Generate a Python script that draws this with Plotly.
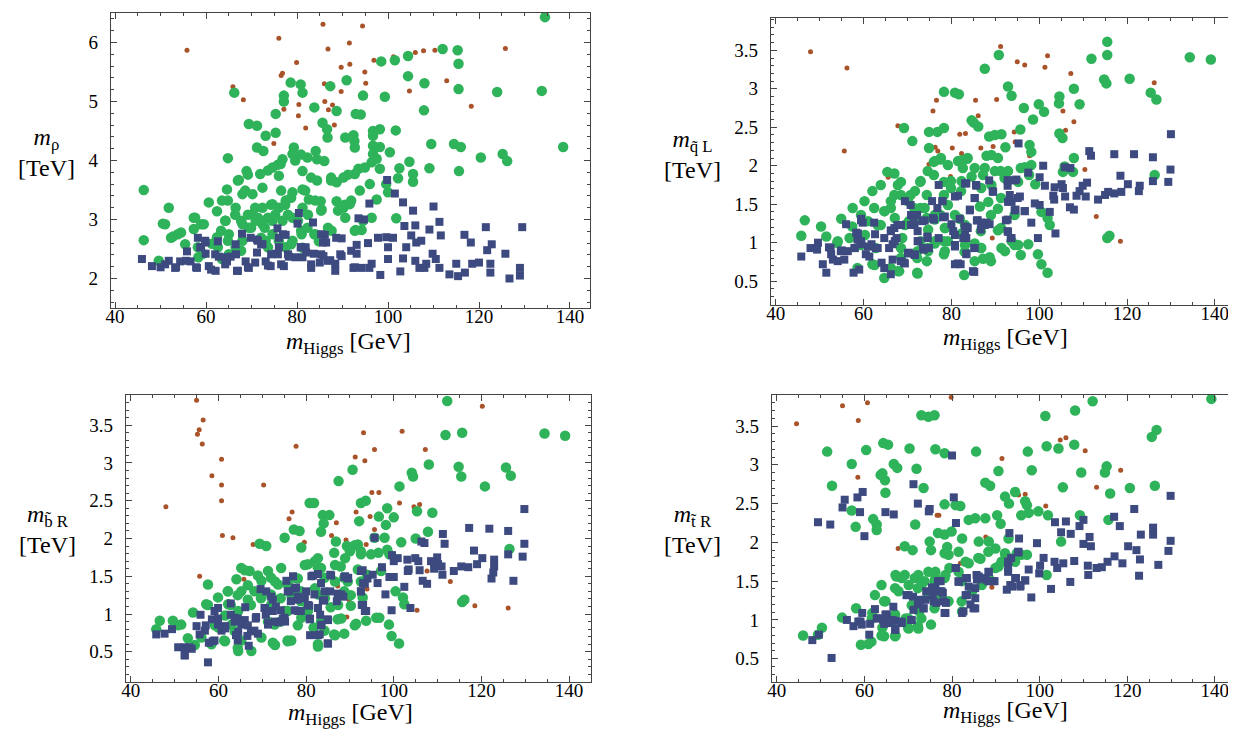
import plotly.graph_objects as go

# ---------------- data (m_Higgs [GeV], mass [TeV]) ----------------
# Panel 1: m_rho
rho_brown = [(55.8,5.87),(76.0,6.07),(85.7,6.31),(86.8,5.89),(79.9,5.66),(76.5,5.44),(76.8,5.48),(65.9,5.25),
             (68.2,5.03),(77.1,4.87),(80.4,4.95),(80.3,4.76),(86.0,5.30),(86.1,5.00),(81.9,4.55),(74.9,4.29),
             (86.9,4.86),(94.4,6.28),(91.5,5.99),(125.8,5.90),(106.0,5.83),(107.8,5.86),(110.3,5.87),(101.2,5.76),
             (96.9,5.70),(91.6,5.63),(89.7,5.58),(94.9,5.50),(112.9,5.35),(95.1,5.31),(89.7,5.17),(104.7,5.18),
             (87.8,4.94),(118.3,4.92),(88.2,4.60)]
rho_green = [(46.3,3.50),(46.3,2.65),(51.8,3.20),(50.5,2.93),(52.7,2.71),(54.5,2.78),(57.3,3.03),(57.3,2.84),
             (59.5,2.92),(60.6,3.29),(62.4,3.14),(64.8,4.04),(66.2,5.15),(63.5,3.32),(64.6,3.51),(67.2,3.67),
             (68.9,3.82),(69.4,4.62),(71.2,4.59),(73.1,4.42),(71.2,4.22),(72.6,4.16),(71.9,3.77),(74.6,3.88),
             (75.3,4.47),(75.3,4.79),(77.1,5.00),(77.1,5.10),(78.6,5.32),(80.8,5.29),(81.2,5.15),(83.8,4.90),
             (85.6,4.64),(79.3,4.22),(79.0,4.11),(76.8,4.02),(76.4,3.94),(82.3,4.05),(84.1,4.16),(86.0,3.99),
             (81.2,3.82),(76.0,3.74),(72.4,3.54),(70.2,3.43),(68.0,3.43),(66.5,3.20),(64.3,2.98),(65.0,2.75),
             (68.0,2.92),(70.2,3.09),(72.4,3.20),(74.6,3.26),(76.0,3.20),(77.5,3.32),(79.0,3.46),(81.2,3.51),
             (82.6,3.34),(85.2,3.31),(85.4,3.17),(81.2,3.20),(79.0,3.03),(76.8,2.98),(74.6,2.98),(72.4,2.92),
             (70.9,2.98),(69.4,2.86),(68.0,2.64),(66.5,2.53),(65.0,2.41),(63.5,2.33),(62.4,2.70),(61.3,2.59),
             (59.3,2.42),(58.3,2.36),(81.0,2.75),(82.3,2.86),(83.8,2.75),(84.8,2.63),(81.2,2.52),(79.0,2.64),
             (77.5,2.53),(76.0,2.64),(74.6,2.75),(73.1,2.64),(49.6,2.30),(87.5,3.71),(86.7,4.39),(87.3,5.26),
             (64.8,3.32),(64.2,2.98),(63.3,2.81),(66.4,3.08),(67.7,2.98),(69.2,3.08),(70.8,3.20),(71.4,3.03),
             (69.9,2.86),(72.9,2.86),(72.1,2.69),(73.6,3.03),(75.2,3.08),(74.3,3.25),(77.4,3.25),(78.7,3.37),
             (78.0,3.08),(76.5,3.49),(68.6,3.49),(67.0,3.66),(69.2,3.76),(73.6,3.83),(75.8,3.93),(79.6,4.00),
             (80.9,4.10),(83.1,3.71),(81.8,3.49),(84.0,3.32),(82.4,3.08),(85.3,3.15),(80.2,2.98),(80.9,2.81),
             (62.6,2.53),(64.8,2.64),(67.7,2.47),(73.6,2.53),(78.7,2.58),(84.0,2.75),(57.6,3.03),(58.9,2.92),
             (53.8,2.75),(52.3,2.69),(55.4,2.58),(58.2,2.53),(51.0,2.92),(91.2,3.76),(87.5,3.66),(90.5,3.25),
             (89.0,3.15),(91.9,3.32),(86.8,2.86),(92.7,2.81),
             (134.5,6.43),(112.0,5.89),(115.3,5.87),(115.5,5.64),(98.5,5.68),(101.5,5.70),(104.4,5.77),(104.4,5.43),
             (108.0,5.31),(90.9,5.36),(94.5,5.10),(99.3,5.08),(115.5,5.21),(124.0,5.16),(133.8,5.18),(107.9,4.85),
             (88.7,4.84),(92.9,4.79),(94.0,4.78),(86.6,4.53),(96.7,4.50),(98.2,4.53),(101.7,4.51),(96.7,4.42),
             (90.6,4.39),(92.4,4.43),(92.6,4.33),(92.7,4.22),(109.5,4.28),(114.5,4.28),(116.0,4.23),(138.5,4.23),
             (120.4,4.05),(125.2,4.11),(126.2,3.99),(96.7,4.25),(98.2,4.23),(100.4,4.14),(96.7,4.11),(97.5,4.03),
             (96.4,3.97),(98.2,3.86),(104.7,3.98),(102.5,3.87),(109.1,3.87),(115.6,3.82),(105.5,3.77),(102.2,3.70),
             (105.5,3.64),(99.6,3.60),(100.0,3.46),(93.5,3.86),(94.9,3.88),(92.7,3.77),(90.2,3.71),(88.7,3.63),
             (84.4,4.02),(84.4,3.66),(96.0,3.60),(93.8,3.49),(97.5,3.34),(91.6,3.26),(88.7,3.31),(90.2,3.20),
             (90.6,3.03),(96.4,3.03),(94.5,2.98),(101.8,3.02),(92.9,2.82),(94.2,2.82),(87.6,2.81)]
rho_blue = [(45.9,2.33),(48.1,2.21),(50.0,2.19),(51.8,2.30),(53.2,2.18),(54.3,2.29),(55.8,2.46),(56.6,2.29),
            (58.0,2.18),(58.2,2.69),(58.7,2.53),(59.9,2.42),(59.9,2.61),(60.6,2.21),(62.1,2.13),(62.6,2.63),
            (62.8,2.37),(64.6,2.29),(65.4,2.37),(66.5,2.58),(66.8,2.13),(67.9,2.76),(68.7,2.29),(69.4,2.18),
            (69.8,2.69),(71.2,2.44),(71.2,2.66),(72.4,2.58),(73.1,2.29),(74.2,2.21),(75.7,2.85),(76.0,2.69),
            (75.3,2.42),(76.0,2.53),(77.1,2.21),(77.5,2.74),(78.2,2.37),(80.4,3.11),(80.1,2.93),(80.8,2.53),
            (81.2,2.36),(81.9,2.53),(83.1,2.18),(83.5,2.95),(83.7,2.42),(85.0,2.27),(86.1,2.74),(86.4,2.61),
            (59.8,2.64),(58.9,2.53),(62.0,2.41),(64.2,2.36),(66.6,2.41),(71.4,2.64),(72.1,2.58),(74.3,2.41),
            (75.8,2.41),(76.9,2.75),(78.0,2.41),(80.9,2.53),(82.0,2.44),(85.3,2.75),(85.7,2.61),(88.6,2.69),
            (89.5,2.41),(85.3,2.41),(86.8,2.30),(83.1,2.24),(79.6,2.36),(76.5,2.24),(73.6,2.22),(70.8,2.27),
            (67.0,2.13),(64.2,2.24),(61.1,2.15),(57.8,2.19),(53.4,2.19),(51.0,2.24),(55.6,2.30),(69.2,2.19),
            (91.9,2.47),(92.7,2.19),
            (99.8,3.67),(101.5,3.44),(103.3,3.29),(95.9,3.27),(105.5,3.15),(110.0,3.22),(93.5,3.02),(94.7,3.00),
            (111.3,2.96),(103.6,2.89),(106.0,2.90),(109.1,2.83),(111.6,2.73),(116.8,2.74),(121.5,2.87),(129.5,2.87),
            (89.8,2.68),(93.1,2.57),(95.6,2.60),(97.8,2.69),(99.6,2.70),(101.1,2.69),(100.0,2.53),(104.0,2.53),
            (105.1,2.73),(106.2,2.61),(107.3,2.64),(118.2,2.61),(122.8,2.58),(121.8,2.48),(109.8,2.42),(110.5,2.33),
            (125.8,2.42),(93.1,2.42),(85.8,2.38),(89.8,2.38),(87.3,2.31),(88.4,2.25),(88.4,2.13),(92.4,2.18),
            (94.2,2.18),(95.9,2.18),(96.4,2.25),(98.3,2.06),(100.0,2.33),(102.7,2.12),(103.3,2.34),(106.0,2.30),
            (106.9,2.18),(108.0,2.18),(108.4,2.25),(111.3,2.18),(113.5,2.07),(115.0,2.25),(115.4,2.04),(116.9,2.10),
            (118.5,2.25),(120.0,2.27),(122.5,2.25),(122.5,2.10),(126.7,2.00),(129.0,2.18),(129.0,2.05)]

# Panel 2: m_qL
qL_brown = [(47.9,3.48),(56.2,3.27),(55.6,2.19),(67.8,2.52),(65.6,1.85),(76.6,2.85),(75.8,2.71),(76.3,2.24),
            (76.9,2.19),(74.9,2.02),(91.2,3.55),(95.0,3.35),(96.7,3.31),(101.9,3.43),(101.3,3.28),(107.2,3.20),
            (126.2,3.08),(85.5,2.85),(90.3,2.86),(86.1,2.65),(81.9,2.41),(83.2,2.42),(94.3,2.44),(105.4,2.71),
            (107.9,2.57),(106.0,2.46),(80.2,2.23),(82.3,2.16),(86.7,2.23),(89.5,2.25),(94.5,2.31),(97.8,2.13),
            (79.8,1.86),(110.4,1.95),(86.1,1.29),(89.3,1.06),(113.0,1.34),(118.5,1.02)]
qL_green = [(46.6,1.29),(45.8,1.09),(50.3,1.21),(51.5,1.08),(54.0,1.00),(54.9,1.31),(57.5,1.45),(57.4,1.21),
            (56.8,1.06),(58.9,1.04),(58.6,0.67),(62.0,1.67),(63.9,1.75),(65.4,1.92),(67.0,1.90),(69.2,2.49),
            (71.1,2.32),(68.5,1.79),(67.0,1.62),(66.2,1.45),(64.7,1.41),(63.9,1.23),(62.8,0.93),(62.0,0.72),
            (64.7,0.54),(66.2,0.67),(68.1,0.63),(68.5,0.93),(68.8,1.06),(70.3,1.28),(71.5,1.45),(70.7,1.62),
            (72.9,1.79),(74.4,1.62),(72.9,1.45),(74.4,1.32),(74.7,1.17),(72.9,1.02),(72.2,0.80),(72.2,0.61),
            (74.4,0.76),(74.7,0.89),(74.9,2.44),(76.8,2.44),(74.9,2.23),(76.0,2.05),(77.5,2.08),(78.3,2.96),
            (78.3,2.49),(76.0,1.88),(78.3,1.79),(78.3,1.62),(77.5,1.36),(78.6,1.19),(78.3,1.02),(78.3,0.85),
            (60.2,1.54),(59.4,1.36),(61.0,1.28),(62.4,1.45),
            (67.8,1.75),(68.5,1.62),(66.2,1.54),(64.8,1.41),(70.1,1.54),(71.7,1.67),(73.0,1.80),(74.6,1.93),
            (76.2,2.06),(77.6,2.10),(79.2,2.01),(81.5,2.06),(83.7,2.10),(85.3,1.97),(87.6,1.97),(89.9,1.93),
            (92.2,1.84),(95.8,1.97),(79.9,1.80),(82.2,1.67),(79.2,1.49),(80.8,1.36),(76.2,1.36),(73.9,1.45),
            (71.7,1.28),(69.4,1.23),(67.1,1.32),(63.2,1.23),(60.3,1.10),(54.1,1.02),(59.4,0.97),(62.5,0.71),
            (67.8,0.63),(68.5,0.80),(72.3,0.89),(72.3,0.60),(74.6,0.93),(76.2,1.02),(78.5,0.89),(79.2,1.02),
            (83.1,0.97),(86.7,0.93),(89.0,0.76),(85.3,0.76),(78.5,1.19),(83.1,1.23),(86.7,1.15),(89.0,1.36),
            (91.3,1.19),(92.2,0.89),(94.4,0.97),(95.8,0.84),(94.4,1.36),(91.3,1.58),(90.6,2.10),
            (115.5,3.61),(115.5,3.44),(111.9,3.39),(134.3,3.41),(139.1,3.38),(90.8,3.44),(87.6,3.26),(114.8,3.12),
            (115.3,3.07),(120.6,3.13),(125.4,2.95),(126.7,2.86),(109.2,2.80),(107.9,3.00),(104.6,2.90),(104.5,2.81),
            (99.9,2.80),(101.1,2.70),(96.5,2.75),(92.9,3.03),(93.7,2.91),(80.8,2.95),(81.7,2.93),(85.1,2.56),
            (86.1,2.51),(84.6,2.59),(88.6,2.38),(89.9,2.40),(91.4,2.41),(95.7,2.47),(98.6,2.60),(104.6,2.42),
            (105.3,2.36),(92.3,2.24),(89.1,2.14),(88.0,2.13),(97.8,2.27),(98.2,2.18),(107.9,2.10),(98.2,2.01),
            (87.2,1.88),(91.2,1.93),(92.9,1.93),(96.7,1.98),(97.7,1.88),(99.1,1.76),(105.4,1.92),(126.3,1.88),
            (82.3,2.07),(83.6,2.09),(82.6,1.97),(84.6,1.86),(82.3,1.80),(79.9,1.71),(86.8,1.71),(89.1,1.75),
            (92.1,1.84),(95.2,1.79),(88.4,1.53),(90.6,1.44),(86.5,1.47),(81.9,1.31),(82.3,1.12),(76.2,1.30),
            (76.2,0.99),(83.0,0.88),(85.3,0.99),(87.2,0.79),(88.7,0.81),(86.8,0.93),(90.6,1.16),(91.4,0.93),
            (93.7,1.02),(95.2,0.97),(97.5,0.98),(99.7,0.85),(100.5,0.72),(101.9,0.61),(100.5,1.40),(101.9,1.32),
            (102.4,1.23),(82.9,0.58),(115.5,1.06),(116.0,1.09),(105.8,1.99),(107.7,1.92)]
qL_blue = [(45.8,0.82),(47.9,0.93),(49.6,1.00),(49.4,0.91),(50.7,0.72),(51.5,0.61),(52.1,0.94),(52.6,0.85),
           (53.0,0.78),(54.1,0.76),(55.0,0.90),(56.0,1.24),(55.6,0.78),(56.4,0.89),(57.9,0.93),(57.7,0.61),
           (58.3,1.13),(59.0,0.65),(58.6,1.04),(59.4,1.31),(59.8,1.26),(59.5,0.98),(60.5,0.85),(61.3,0.82),
           (61.8,0.98),(62.4,1.26),(62.6,1.11),(62.8,0.93),(64.1,0.74),(64.7,0.67),(64.7,1.06),(66.2,1.16),
           (65.8,0.93),(66.6,0.98),(66.2,0.59),(67.0,1.19),(67.7,1.23),(67.5,1.06),(66.6,0.78),(68.5,0.76),
           (69.2,0.74),(68.5,1.23),(69.4,1.54),(70.7,1.49),(71.3,1.34),(72.2,1.36),(71.6,1.24),(70.3,0.87),
           (71.5,0.85),(72.5,1.02),(73.4,1.28),(73.7,0.91),(74.5,1.08),(74.9,0.93),(75.6,1.54),(76.0,1.30),
           (77.1,1.75),(76.8,1.45),(77.1,1.06),(77.9,1.54),(78.1,1.33),
           (52.5,0.93),(54.8,0.89),(58.0,0.93),(59.4,1.02),(61.0,0.95),(63.2,0.93),(58.7,1.12),(59.4,1.29),
           (66.2,1.15),(67.1,1.02),(69.4,0.73),(70.1,0.86),(71.7,0.84),(72.3,1.02),(74.6,1.06),(73.5,0.93),
           (72.3,1.15),(70.8,1.23),(70.8,1.36),(73.9,1.29),(75.8,1.32),(78.0,1.54),(78.5,1.34),(80.8,1.10),
           (80.8,0.97),(81.5,0.73),(83.1,1.10),(83.7,1.19),(83.4,0.86),(85.3,0.93),(84.9,0.63),(80.8,1.60),
           (83.1,1.77),(85.6,1.75),(85.3,1.58),(84.2,1.42),(89.4,1.67),(86.0,1.29),(87.6,1.23),(86.7,1.17),
           (92.4,1.29),(92.8,1.81),(94.4,1.81),(93.3,1.62),(95.1,1.58),(94.4,1.42),(96.7,1.41),(92.8,1.15),
           (93.5,1.06),
           (130.0,2.41),(111.4,2.19),(111.8,2.13),(117.1,2.15),(121.6,2.15),(125.9,2.11),(129.9,1.95),(129.4,1.79),
           (125.9,1.80),(122.9,1.74),(122.7,1.67),(120.2,1.76),(118.5,1.87),(118.7,1.66),(117.1,1.64),(115.7,1.66),
           (115.0,1.62),(113.4,1.56),(110.9,1.78),(109.9,1.74),(109.2,1.67),(108.5,1.61),(107.1,1.97),(105.8,1.98),
           (105.1,1.76),(105.4,1.71),(103.5,1.72),(103.2,1.61),(103.4,1.56),(105.9,1.60),(107.0,1.46),(107.9,1.43),
           (110.6,1.60),(100.9,2.00),(100.1,1.85),(101.3,1.74),(99.0,1.51),(100.1,1.49),(102.4,1.40),(103.7,1.12),
           (99.7,1.06),(98.2,1.26),(97.5,1.91),(95.3,2.29),(94.8,1.82),(92.9,1.81),(92.8,1.74),(92.9,1.53),
           (93.7,1.53),(95.6,1.60),(94.6,1.43),(96.7,1.41),(92.8,1.30),(92.9,1.14),(93.7,1.06),(88.6,1.81),
           (89.5,1.66),(85.7,1.74),(85.3,1.58),(83.4,1.77),(81.5,1.61),(84.2,1.43),(81.9,1.31),(80.0,1.24),
           (80.4,1.15),(83.0,1.21),(83.6,1.20),(85.8,1.29),(86.8,1.26),(88.0,1.26),(88.7,1.24),(83.4,1.06),
           (82.7,1.06),(80.8,0.95),(85.2,0.93),(83.4,0.85),(80.8,0.72),(82.1,0.72),(85.2,0.62)]

# Panel 3: m_bR
bR_brown = [(55.0,3.83),(56.5,3.57),(55.6,3.44),(55.2,3.38),(56.3,3.25),(48.0,2.42),(60.7,3.05),(58.5,2.83),
            (60.7,2.71),(60.7,2.50),(60.9,2.04),(55.7,1.50),(63.3,2.01),(67.9,1.92),(70.3,2.71),(77.7,3.22),
            (76.8,2.35),(76.1,2.26),(79.6,1.95),(65.8,1.46),
            (120.2,3.75),(93.1,3.40),(101.9,3.42),(95.6,3.18),(107.2,3.18),(91.2,3.08),(93.4,3.03),(95.0,2.61),
            (96.6,2.61),(101.3,2.47),(104.6,2.42),(105.9,2.45),(91.4,2.35),(94.6,2.29),(86.9,2.21),(95.6,2.12),
            (85.8,2.04),(89.1,1.98),(93.7,1.92),(107.6,1.57),(112.9,1.43),(97.7,1.58),(87.2,1.37),(93.9,1.33),
            (89.8,1.19),(118.5,1.11),(126.1,1.08),(105.3,1.05),(89.3,0.96)]
bR_green = [(46.6,0.91),(45.8,0.80),(49.6,0.91),(51.5,0.86),(54.2,1.02),(57.2,1.13),(56.1,0.69),(58.4,0.60),
            (60.0,0.82),(61.3,0.65),(62.2,1.30),(64.1,1.46),(65.2,1.61),(67.1,1.57),(69.4,1.93),(70.9,1.90),
            (75.1,2.01),(77.2,2.12),(78.5,2.10),(80.8,2.47),(81.8,2.47),(83.8,2.31),(83.4,2.09),(78.9,1.88),
            (74.3,1.61),(72.0,1.48),(69.8,1.44),(68.2,1.30),(66.7,1.19),(64.5,1.04),(63.0,0.86),(65.2,0.65),
            (67.5,0.51),(64.5,0.51),(69.8,0.69),(72.4,0.62),(75.8,0.65),(76.6,0.65),(72.8,0.86),(75.1,1.04),
            (76.6,1.26),(77.4,1.48),(80.4,1.66),(82.7,1.74),(84.2,1.48),(82.7,1.26),(80.4,1.08),(78.9,0.95),
            (82.7,0.60),(84.2,0.78),(57.6,1.39),(59.9,1.22),(62.2,1.13),(65.2,1.30),(69.8,1.22),(72.0,1.26),
            (73.6,1.39),(75.8,1.39),
            (50.7,0.85),(53.0,0.68),(54.6,0.59),(57.6,1.12),(59.2,0.85),(61.5,0.64),(63.7,0.77),(64.4,0.55),
            (61.5,0.98),(62.8,1.12),(64.4,1.25),(66.7,1.38),(69.0,1.51),(71.3,1.57),(72.9,1.43),(67.4,1.12),
            (69.7,1.21),(72.0,1.12),(74.2,1.21),(75.8,1.04),(74.2,0.90),(71.3,0.90),(72.9,0.59),(75.8,0.64),
            (76.5,1.34),(78.1,1.47),(79.7,1.65),(82.0,1.70),(83.4,1.61),(86.6,1.65),(88.9,1.74),(91.1,1.91),
            (92.5,1.83),(78.8,1.17),(80.4,1.04),(78.1,0.85),(78.8,1.30),(82.0,1.34),(84.3,1.21),(83.4,0.90),
            (86.6,0.72),(82.7,0.57),(88.0,0.94),(91.1,0.85),(87.3,1.12),(90.2,1.25),(89.5,1.43),(86.6,1.43),
            (92.5,1.43),(62.1,1.30),(66.0,1.58),
            (112.2,3.82),(111.8,3.37),(115.6,3.40),(134.4,3.39),(139.1,3.36),(108.0,2.98),(104.1,2.87),(104.4,2.82),
            (114.8,2.95),(115.4,2.82),(125.6,2.94),(126.7,2.83),(120.8,2.69),(101.3,2.69),(90.6,2.91),(87.4,2.76),
            (92.5,2.47),(93.6,2.50),(98.5,2.40),(96.6,2.29),(100.0,2.28),(105.3,2.36),(108.8,2.34),(92.1,2.23),
            (98.2,2.18),(85.3,2.31),(84.0,2.20),(95.6,2.01),(97.9,2.01),(101.7,1.95),(107.8,2.09),(105.0,2.00),
            (86.8,1.96),(89.3,1.90),(91.8,1.92),(90.0,1.83),(92.5,1.79),(94.8,1.79),(96.5,1.81),(98.5,1.85),
            (99.0,1.79),(86.4,1.81),(82.6,1.63),(87.9,1.63),(88.7,1.48),(91.8,1.59),(93.9,1.52),(97.1,1.57),
            (109.3,1.68),(126.4,1.86),(100.4,1.30),(102.1,1.22),(102.4,1.13),(115.6,1.16),(116.1,1.19),(90.2,1.11),
            (87.2,0.93),(91.4,0.87),(93.7,0.91),(96.0,0.95),(96.7,0.95),(98.9,0.86),(99.5,0.71),(101.2,0.61),
            (88.7,0.74),(86.4,0.73),(81.7,0.82),(85.6,1.09),(88.7,1.30),(92.9,1.22)]
bR_blue = [(45.8,0.73),(47.7,0.74),(49.4,0.80),(50.8,0.56),(52.3,0.56),(53.4,0.56),(52.3,0.45),(53.9,0.54),
           (55.0,0.84),(55.9,0.99),(55.7,0.73),(56.9,0.78),(57.6,0.36),(57.8,0.62),(59.1,0.65),(58.5,0.93),
           (59.1,1.04),(59.9,1.08),(59.9,0.86),(60.7,0.78),(61.6,0.84),(62.8,1.14),(63.7,0.95),(64.5,0.76),
           (65.2,0.86),(66.1,1.09),(66.6,0.71),(66.9,0.58),(68.2,0.78),(68.6,0.96),(69.6,1.33),(70.9,1.30),
           (70.5,1.08),(72.4,1.19),(72.4,1.04),(71.3,0.86),(73.6,0.89),(75.1,0.95),(75.5,1.44),(76.2,1.30),
           (77.0,1.50),(77.7,1.35),(78.1,1.19),(78.1,1.04),(80.0,1.30),(80.8,0.93),(81.2,1.50),(82.7,1.53),
           (81.9,1.26),(82.7,1.08),(83.1,0.73),(83.5,0.86),(84.2,1.30),
           (52.3,0.46),(58.7,0.64),(57.1,0.85),(59.9,0.94),(61.5,0.81),(62.8,0.99),(63.7,0.90),(64.4,0.94),
           (64.0,0.72),(64.4,0.65),(66.0,0.92),(66.7,0.85),(67.4,0.77),(69.0,0.74),(68.5,0.94),(70.6,1.08),
           (70.8,0.99),(72.0,1.23),(71.3,0.88),(72.9,0.90),(73.1,1.10),(74.2,1.05),(74.7,0.94),(75.2,0.90),
           (75.8,1.30),(76.5,1.17),(77.4,1.34),(78.1,1.23),(77.4,1.05),(78.8,1.04),(79.7,1.21),(80.4,1.12),
           (80.9,0.94),(81.6,1.51),(83.4,1.41),(82.7,1.08),(83.2,0.99),(83.4,0.85),(80.9,0.72),(82.7,0.72),
           (85.0,0.61),(85.0,0.92),(83.8,1.18),(85.7,1.51),(87.3,1.25),(88.0,1.25),(88.9,1.50),(89.5,1.47),
           (92.5,1.57),(93.0,1.41),(92.5,1.30),(93.0,1.12),(93.4,1.04),
           (129.8,2.39),(117.2,2.14),(121.8,2.13),(126.1,2.10),(111.2,2.06),(106.3,1.96),(107.0,1.94),(111.6,1.93),
           (118.3,1.84),(129.8,1.93),(129.4,1.76),(126.1,1.79),(120.2,1.74),(122.9,1.72),(122.9,1.63),(122.3,1.47),
           (122.7,1.55),(119.0,1.66),(117.0,1.62),(115.4,1.63),(113.7,1.57),(109.9,1.75),(108.5,1.70),(110.1,1.66),
           (109.2,1.60),(111.1,1.52),(110.9,1.63),(127.3,1.44),(104.9,1.74),(105.6,1.70),(103.1,1.72),(100.9,1.74),
           (99.6,1.78),(100.0,1.70),(103.2,1.57),(103.4,1.59),(105.9,1.58),(106.6,1.44),(107.6,1.40),(102.4,1.36),
           (99.0,1.49),(100.0,1.49),(97.3,1.62),(95.6,2.01),(95.2,1.52),(96.3,1.41),(92.9,1.58),(94.0,1.47),
           (93.4,1.40),(92.5,1.30),(92.7,1.12),(93.7,1.04),(98.1,1.26),(99.5,1.05),(103.8,1.08),(88.7,1.49),
           (89.6,1.48),(85.5,1.52),(85.5,1.30),(87.2,1.27),(88.0,1.26),(88.5,1.23),(84.1,1.18),(87.0,1.17),
           (80.7,1.11),(84.9,0.93),(84.9,0.61)]

# Panel 4: m_tR
tR_brown = [(44.5,3.53),(55.0,3.76),(60.7,3.80),(58.6,3.57),(58.5,2.84),(67.7,1.92),(76.6,2.35),
            (79.8,3.87),(104.7,3.32),(106.0,3.35),(110.4,3.18),(91.4,3.08),(118.5,2.93),(113.0,2.71),(96.7,2.62),
            (95.2,2.61),(101.4,2.47),(77.0,2.35),(87.7,2.07),(87.9,1.86),(81.9,1.73),(89.1,1.42)]
tR_green = [(46.0,0.80),(49.4,0.81),(50.3,0.90),(51.5,3.17),(52.6,2.73),(57.1,3.01),(57.1,2.41),(58.0,2.20),
            (60.4,3.19),(59.2,0.68),(60.9,0.69),(61.7,1.02),(58.1,1.15),(54.9,1.03),(62.0,2.30),(62.8,2.23),
            (62.8,2.16),(63.7,2.87),(64.1,2.89),(64.3,3.28),(65.4,3.26),(64.7,2.80),(64.8,2.64),(66.7,3.01),
            (67.5,2.96),(70.3,3.21),(71.9,2.95),(73.5,2.70),(71.6,2.23),(69.2,1.95),(71.0,1.90),(73.0,3.64),
            (74.6,3.62),(76.0,3.64),(76.2,3.20),(78.3,3.15),(78.3,2.49),(76.8,2.12),(78.3,2.10),(74.9,2.01),
            (75.2,1.90),(78.3,1.86),(79.4,1.67),(75.2,0.94),(76.0,1.15),(74.5,1.30),(72.2,1.41),(71.5,1.54),
            (69.2,1.58),(67.3,1.56),(67.0,1.41),(64.5,1.24),(62.4,1.32),(61.8,1.09),(64.1,0.90),(64.5,0.79),
            (67.0,0.79),(67.0,1.07),(70.0,1.02),(70.0,0.90),(72.2,0.92),(72.5,1.11),(73.7,1.50),(76.0,1.50),
            (78.3,1.54),(77.5,1.32),
            (61.6,0.72),(63.9,1.45),(64.8,1.24),(63.9,0.80),(66.2,0.98),(67.1,0.80),(67.1,1.58),(68.5,1.54),
            (70.1,1.45),(67.8,1.37),(70.8,1.19),(69.4,1.02),(70.1,0.89),(72.3,0.89),(72.3,1.58),(74.6,1.62),
            (73.0,1.45),(73.0,1.02),(76.2,1.54),(78.5,1.58),(79.2,1.84),(81.5,1.88),(83.1,1.75),(82.2,1.24),
            (86.0,1.80),(88.3,1.88),(89.9,1.67),(91.3,1.75),(92.2,1.84),(94.4,1.75),(95.8,1.84),(82.2,1.50),
            (86.7,1.50),
            (139.2,3.85),(112.1,3.82),(108.1,3.70),(101.3,3.63),(126.7,3.45),(125.6,3.36),(101.6,3.24),(104.3,3.21),
            (107.9,3.26),(85.5,3.17),(97.3,3.17),(98.2,2.93),(90.6,2.92),(109.5,2.90),(115.3,2.98),(114.9,2.90),
            (105.3,2.71),(116.1,2.63),(120.6,2.70),(126.3,2.73),(87.6,2.77),(88.7,2.73),(94.4,2.65),(92.1,2.59),
            (93.0,2.50),(96.7,2.53),(97.1,2.48),(80.8,2.48),(81.9,2.47),(99.7,2.40),(101.9,2.35),(109.2,2.35),
            (115.7,2.29),(83.8,2.29),(85.3,2.31),(87.6,2.31),(90.3,2.35),(91.1,2.24),(95.8,2.35),(97.5,2.38),
            (79.9,2.14),(82.3,2.05),(86.1,2.01),(88.4,2.01),(92.9,2.05),(89.9,1.92),(92.1,1.86),(94.8,1.86),
            (97.1,1.84),(104.9,2.01),(86.5,1.79),(83.8,1.73),(81.5,1.62),(78.9,1.94),(90.6,1.69),(101.6,1.58),
            (76.2,1.62),(79.2,1.24),(82.3,1.11),(84.6,1.37),(86.8,1.45),(88.4,1.54)]
tR_blue = [(52.5,0.51),(48.1,0.74),(49.6,0.81),(49.4,2.26),(52.2,2.23),(55.0,2.45),(55.5,2.55),(58.4,2.58),
           (59.6,2.65),(59.0,2.39),(60.0,2.08),(64.8,2.39),(66.7,2.36),(71.2,2.75),(72.2,2.50),(74.9,2.43),
           (74.7,2.40),(56.0,1.00),(57.5,0.92),(58.6,0.98),(59.5,1.09),(59.4,0.94),(61.1,0.81),(61.3,0.95),
           (62.4,1.14),(62.8,1.02),(64.3,1.00),(64.5,0.95),(65.1,1.07),(66.6,1.17),(67.0,0.99),(67.0,0.87),
           (68.5,0.96),(69.6,1.32),(70.7,1.00),(71.1,1.30),(72.2,1.20),(72.9,1.26),(73.5,1.15),(74.1,1.37),
           (75.4,1.42),(75.6,1.32),(76.4,1.22),(76.8,1.50),(77.1,1.37),(77.9,1.35),(78.3,1.09),(78.6,1.22),
           (59.1,0.98),(63.2,1.02),(64.8,1.07),(65.5,0.96),(67.1,0.89),(66.2,1.00),(68.5,0.98),(70.1,1.32),
           (70.8,1.00),(71.2,1.13),(72.3,1.24),(73.5,1.15),(73.9,1.26),(76.2,1.41),(75.8,1.24),(77.4,1.50),
           (77.6,1.37),(78.0,1.24),(78.5,1.09),(80.8,1.67),(81.5,1.50),(83.4,1.54),(83.1,1.32),(82.6,1.11),
           (84.9,1.15),(85.3,1.28),(85.6,1.58),(86.7,1.54),(88.3,1.62),(88.3,1.50),(89.4,1.50),(92.8,1.62),
           (92.8,1.75),(93.3,1.45),(94.4,1.54),(95.6,1.45),(96.7,1.51),(95.1,1.88),
           (80.0,3.12),(80.4,2.58),(80.9,2.25),(129.9,2.60),(121.6,2.43),(117.0,2.33),(118.3,2.21),(110.0,2.29),
           (109.1,2.21),(106.0,2.27),(104.9,2.13),(103.5,2.26),(107.1,2.11),(110.0,1.98),(111.7,1.95),(111.4,2.07),
           (120.2,1.95),(122.1,1.90),(123.1,2.10),(125.9,2.19),(125.9,2.10),(129.9,2.02),(129.4,1.89),(122.9,1.78),
           (127.1,1.71),(122.7,1.57),(118.9,1.73),(117.1,1.82),(115.5,1.75),(114.2,1.68),(113.0,1.67),(111.0,1.70),
           (111.1,1.58),(107.9,1.76),(107.0,1.49),(105.4,1.73),(104.0,1.67),(103.4,1.75),(102.6,1.40),(100.9,1.80),
           (100.1,1.70),(99.9,1.60),(99.4,1.99),(97.5,1.65),(98.1,1.29),(96.7,1.51),(95.6,1.43),(94.6,1.54),
           (93.7,1.43),(92.5,1.39),(95.2,1.87),(95.3,2.05),(93.1,2.12),(93.5,1.80),(92.9,1.75),(92.8,1.67),
           (89.7,1.50),(88.4,1.62),(88.7,1.50),(87.7,1.52),(86.1,1.56),(85.7,1.52),(85.3,1.41),(83.8,1.43),
           (83.2,1.54),(81.5,1.49),(80.9,1.67),(83.4,1.32),(84.2,1.20),(85.3,1.15),(82.3,1.09)]

y_titles = ["<i>m</i><sub>ρ</sub><br>[TeV]", "<i>m</i><sub>q̃ L</sub><br>[TeV]",
            "<i>m</i><sub>b̃ R</sub><br>[TeV]", "<i>m</i><sub>t̃ R</sub><br>[TeV]"]
x_title = "<i>m</i><sub>Higgs</sub> [GeV]"

panels = [(rho_brown, rho_green, rho_blue), (qL_brown, qL_green, qL_blue),
          (bR_brown, bR_green, bR_blue), (tR_brown, tR_green, tR_blue)]

# ---------------- layout geometry (pixels) ----------------
W, H = 1236, 732
boxes = [(103, 582, 5, 300), (763, 1227, 10, 297), (118, 583, 387, 674), (764, 1227, 387, 674)]
xranges = [[39.1, 144.4], [38.9, 144.6], [38.9, 145.0], [38.9, 144.6]]
yranges = [[1.5, 6.5], [0.19, 3.92], [0.1, 3.9], [0.2, 3.9]]
ydticks = [1, 0.5, 0.5, 0.5]
yminor = [0.2, 0.1, 0.1, 0.1]
ylab_pos = [(38, 144), (684, 146), (39, 521), (684, 521)]
xlab_pos = [(340, 335), (997, 331), (342, 706), (997, 704)]

GREEN = "#2fb35a"
BLUE = "#3d4a80"
BROWN = "#a9532b"
FONT = "Liberation Serif"

fig = go.Figure()
for i, (brown, green, blue) in enumerate(panels):
    n = "" if i == 0 else str(i + 1)
    xa, ya = "x" + n, "y" + n
    for pts, sym, size, col in [(brown, "circle", 5, BROWN), (green, "circle", 10.5, GREEN), (blue, "square", 8, BLUE)]:
        fig.add_trace(go.Scatter(x=[p[0] for p in pts], y=[p[1] for p in pts], mode="markers",
                                 marker=dict(symbol=sym, size=size, color=col, line=dict(width=0)),
                                 xaxis=xa, yaxis=ya, showlegend=False, hoverinfo="skip"))
    l, r, t, b = boxes[i]
    axis_common = dict(showline=True, linecolor="#444", linewidth=1.3, mirror="ticks", ticks="inside",
                       ticklen=6, tickwidth=1, tickcolor="#444", showgrid=False, zeroline=False,
                       tickfont=dict(family=FONT, size=19, color="black"), automargin=False)
    fig.layout["xaxis" + n] = dict(domain=[l / W, r / W], range=xranges[i], anchor=ya, tick0=40, dtick=20,
                                   ticklabelstandoff=-9,
                                   minor=dict(ticks="inside", ticklen=3, dtick=5, tickcolor="#444", showgrid=False),
                                   **axis_common)
    fig.layout["yaxis" + n] = dict(domain=[1 - b / H, 1 - t / H], range=yranges[i], anchor=xa, tick0=0,
                                   dtick=ydticks[i], ticklabelstandoff=8,
                                   minor=dict(ticks="inside", ticklen=3, dtick=yminor[i], tickcolor="#444", showgrid=False),
                                   **axis_common)
    fig.add_annotation(text=y_titles[i], x=ylab_pos[i][0] / W, y=1 - ylab_pos[i][1] / H, xref="paper", yref="paper",
                       showarrow=False, xanchor="center", yanchor="middle", align="center",
                       font=dict(family=FONT, size=24, color="black"))
    fig.add_annotation(text=x_title, x=xlab_pos[i][0] / W, y=1 - xlab_pos[i][1] / H, xref="paper", yref="paper",
                       showarrow=False, xanchor="center", yanchor="middle",
                       font=dict(family=FONT, size=24, color="black"))

fig.update_layout(width=W, height=H, margin=dict(l=0, r=0, t=0, b=0), plot_bgcolor="white",
                  paper_bgcolor="white", showlegend=False)
fig.write_html("out.html")
